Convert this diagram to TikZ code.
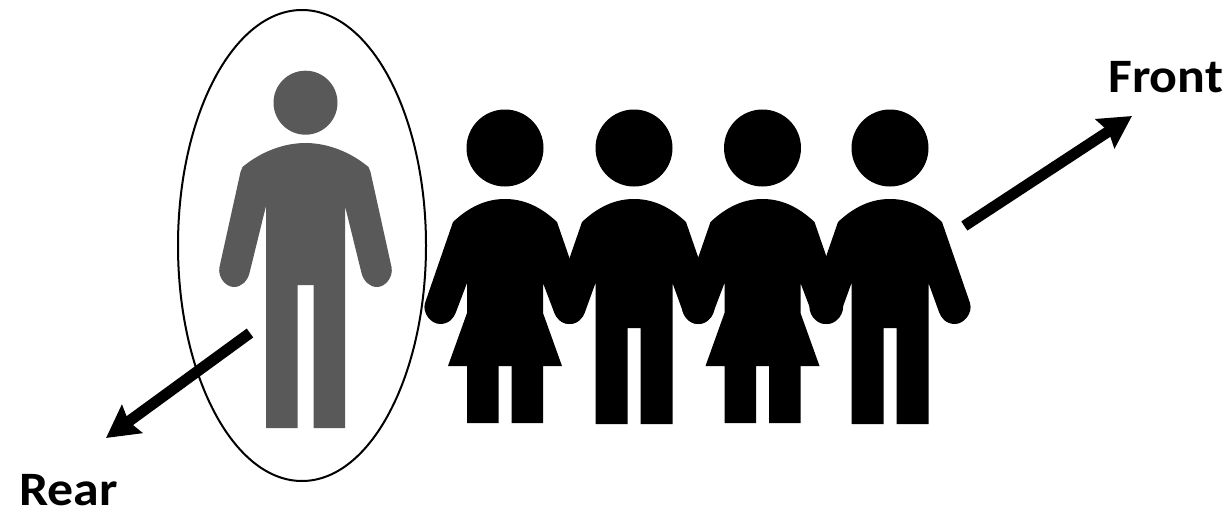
\documentclass[tikz,border=0pt]{standalone}
\usepackage{fontspec}
\setmainfont[FakeStretch=1.08]{Carlito}
\usetikzlibrary{arrows.meta,shapes.geometric}

\begin{document}
\begin{tikzpicture}[
        x=1pt, y=-1pt,
        headcircle/.style={circle, fill=black, inner sep=0pt, minimum size=77pt},
        greyhead/.style={circle, fill=personGrey, inner sep=0pt, minimum size=64pt},
        ring/.style={ellipse, draw, line width=2pt, inner sep=0pt, minimum width=248pt, minimum height=471pt},
        direction/.style={-{Stealth[length=32pt,width=34pt,inset=4pt]}, line width=11pt},
        label/.style={font=\fontsize{48}{48}\selectfont\bfseries, inner sep=0pt, anchor=base west},
        man/.pic={
            \node[headcircle] (-head) at (0,148) {};
            \fill (-52,222) .. controls (-35,206) and (-18,199) .. (0,199)
                .. controls (18,199) and (35,206) .. (52,222)
                -- (80,303) .. controls (83,313) and (74,324) .. (65,324)
                .. controls (56,324) and (51,318) .. (49,312)
                -- (38.5,283) -- (38.5,424) -- (6.5,424) -- (6.5,328)
                -- (-6.5,328) -- (-6.5,424) -- (-38.5,424) -- (-38.5,283)
                -- (-49,312) .. controls (-51,318) and (-56,324) .. (-65,324)
                .. controls (-74,324) and (-83,313) .. (-80,303) -- cycle;
        },
        woman/.pic={
            \node[headcircle] (-head) at (0,148) {};
            \fill (-52,222) .. controls (-35,206) and (-18,199) .. (0,199)
                .. controls (18,199) and (35,206) .. (52,222)
                -- (80,303) .. controls (83,313) and (74,324) .. (65,324)
                .. controls (56,324) and (51,318) .. (49,312)
                -- (38,283) -- (38,313) -- (57,366) -- (38,366) -- (38,423)
                -- (6.5,423) -- (6.5,366) -- (-6.5,366) -- (-6.5,423)
                -- (-38,423) -- (-38,366) -- (-57,366) -- (-38,313) -- (-38,283)
                -- (-49,312) .. controls (-51,318) and (-56,324) .. (-65,324)
                .. controls (-74,324) and (-83,313) .. (-80,303) -- cycle;
        },
        greyman/.pic={
            \node[greyhead] (-head) at (0,102.7) {};
            \fill[personGrey] (-63,167) .. controls (-45,152) and (-22,143) .. (0,143)
                .. controls (22,143) and (45,152) .. (63,167)
                -- (65,172) -- (86,267) .. controls (88,277) and (80,287) .. (71.5,287)
                .. controls (64,287) and (58,281) .. (56,273)
                -- (39.5,206) -- (39.5,428) -- (8,428) -- (8,285)
                -- (-8,285) -- (-8,428) -- (-39.5,428) -- (-39.5,206)
                -- (-56,273) .. controls (-58,281) and (-64,287) .. (-71.5,287)
                .. controls (-80,287) and (-88,277) .. (-86,267)
                -- (-65,172) -- cycle;
        }
    ]
    \definecolor{personGrey}{HTML}{595959}
    \useasboundingbox (0,0) rectangle (1232,511);

    % Define the rear person and its ring
    \node[ring] (ring1) at (302,245.5) {};
    \pic (rearman) at (305.5,0) {greyman};

    % Define the row of people
    \pic (person1) at (505,0) {woman};
    \pic (person2) at (634,0) {man};
    \pic (person3) at (762.5,0) {woman};
    \pic (person4) at (890,0) {man};

    % Define labels
    \node[label] (front) at (1108,92.7) {Front};
    \node[label] (rear) at (19,505) {Rear};

    % Arrow ends
    \coordinate (frontstart) at (964.3,226);
    \coordinate (fronttip) at (1132,116);
    \coordinate (rearstart) at (250,333);
    \coordinate (reartip) at (106,438);

    % Draw directions
    \draw[direction] (frontstart) -- (fronttip);
    \draw[direction] (rearstart) -- (reartip);

\end{tikzpicture}
\end{document}
